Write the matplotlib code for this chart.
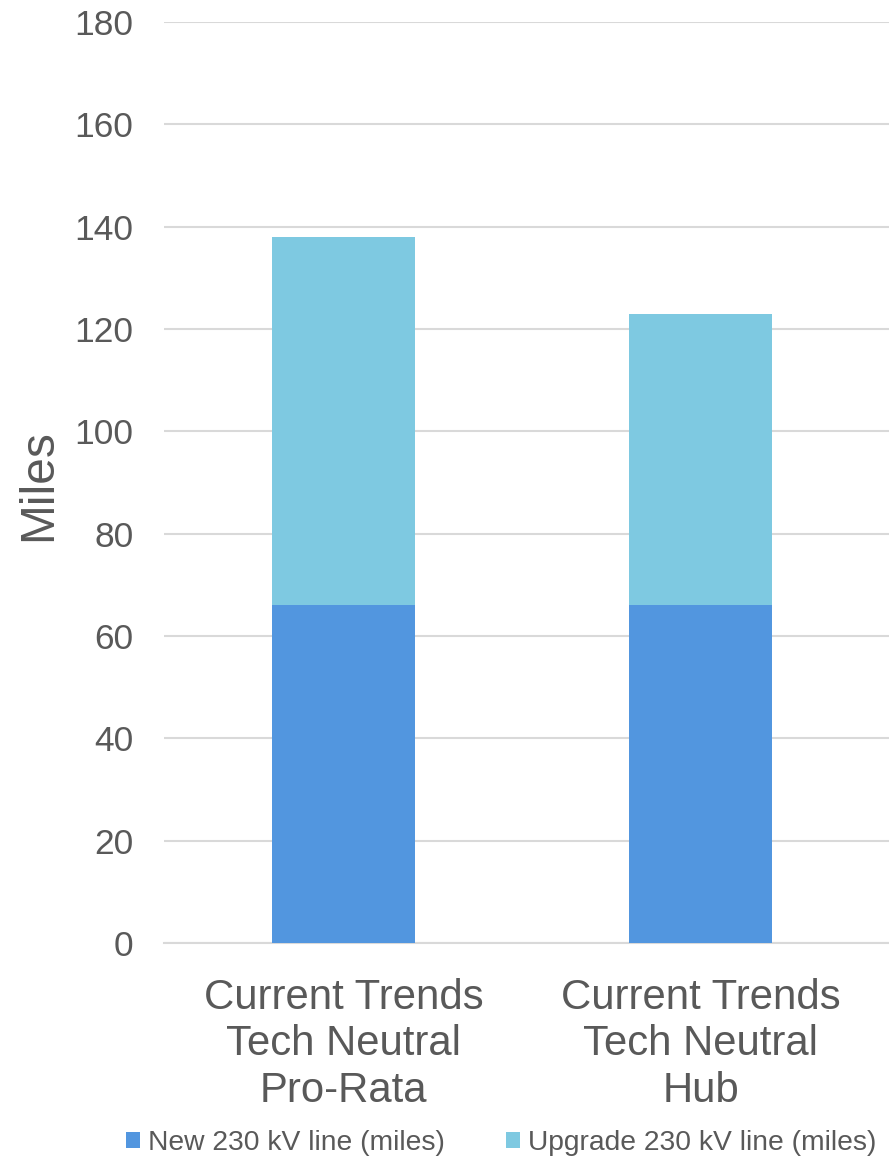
import matplotlib
matplotlib.use("Agg")
import matplotlib.pyplot as plt

categories = ["Current Trends\nTech Neutral\nPro-Rata", "Current Trends\nTech Neutral\nHub"]
new_line = [66, 66]
upgrade_line = [72, 57]
series_names = ["New 230 kV line (miles)", "Upgrade 230 kV line (miles)"]
yticks = [0, 20, 40, 60, 80, 100, 120, 140, 160, 180]

plt.rcParams["font.family"] = ["Liberation Sans", "DejaVu Sans"]
text_color = "#595959"

fig = plt.figure(figsize=(8.89, 11.62), dpi=100)
ax = fig.add_axes([164 / 889, 1 - 943 / 1162, (889 - 164) / 889, (943 - 22) / 1162])

x = list(range(len(categories)))
ax.bar(x, new_line, width=0.4, color="#5296DF", label=series_names[0], zorder=3)
ax.bar(x, upgrade_line, width=0.4, bottom=new_line, color="#7EC9E1",
       label=series_names[1], zorder=3)

ax.set_ylim(0, 180)
ax.set_xlim(-0.503, 1.528)
ax.set_yticks(yticks)
ax.set_xticks(x)
ax.set_xticklabels(categories, fontsize=30.2, color=text_color, linespacing=1.21)
ax.tick_params(axis="y", labelsize=25.5, labelcolor=text_color, length=0, pad=22)
ax.tick_params(axis="x", length=0, pad=25)
ax.yaxis.grid(True, color="#D9D9D9", linewidth=1.5, zorder=0)
for s in ["top", "right", "left"]:
    ax.spines[s].set_visible(False)
ax.spines["bottom"].set_color("#D9D9D9")
ax.spines["bottom"].set_linewidth(1.5)

ax.set_ylabel("Miles", fontsize=34.5, color=text_color)
ax.yaxis.set_label_coords(-0.142, 0.497)

fig.legend(loc="center", bbox_to_anchor=(501 / 889, 1 - 1143 / 1162), ncol=2,
           frameon=False, fontsize=20.3, labelcolor=text_color,
           handlelength=0.5, handleheight=0.5, handletextpad=0.3, columnspacing=2.15)

fig.savefig("out.png", dpi=100)
